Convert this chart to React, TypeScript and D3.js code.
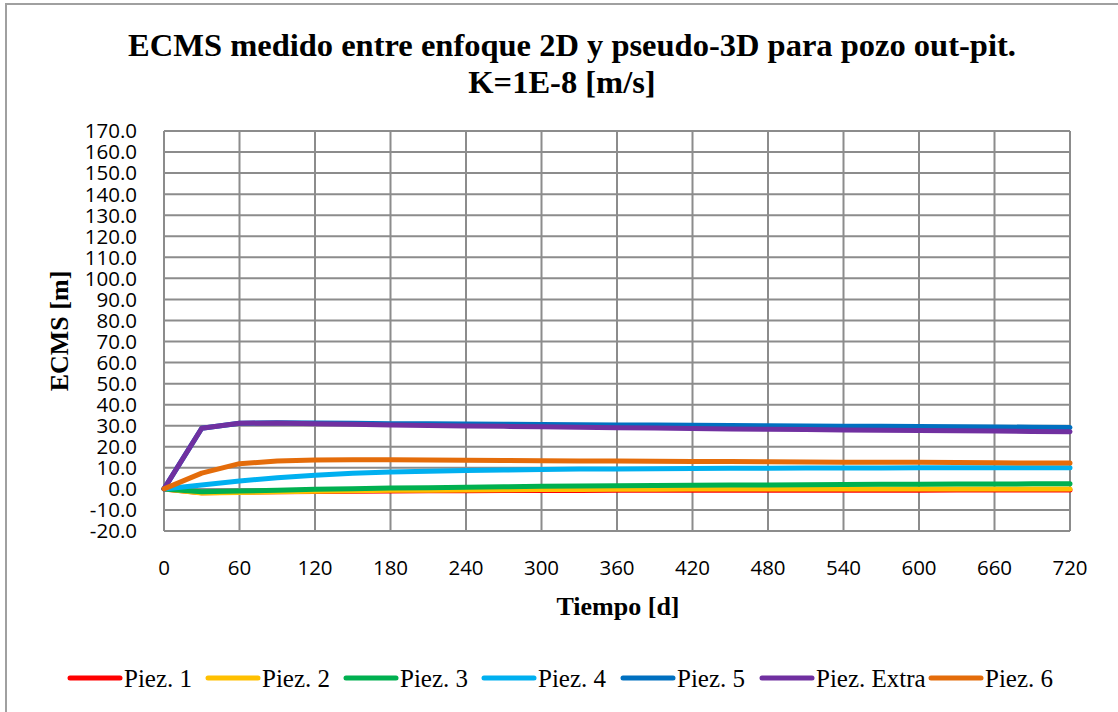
import React from "react";
import * as d3 from "d3";

const days = [0, 30, 60, 90, 120, 150, 180, 210, 240, 270, 300, 330, 360, 390, 420, 450, 480, 510, 540, 570, 600, 630, 660, 690, 720];

const piez1 = [0, -1.8, -1.6, -1.4, -1.2, -1.1, -1.0, -0.9, -0.9, -0.8, -0.8, -0.8, -0.7, -0.7, -0.7, -0.7, -0.6, -0.6, -0.6, -0.6, -0.6, -0.5, -0.5, -0.5, -0.5];
const piez2 = [0, -2.0, -1.7, -1.4, -1.1, -0.9, -0.7, -0.6, -0.5, -0.4, -0.3, -0.3, -0.2, -0.2, -0.1, -0.1, 0, 0, 0, 0, 0, 0, 0, 0, 0];
const piez3 = [0, -1.3, -1.0, -0.6, -0.2, 0.1, 0.4, 0.6, 0.8, 1.0, 1.2, 1.4, 1.5, 1.6, 1.7, 1.8, 1.9, 2.0, 2.1, 2.2, 2.2, 2.3, 2.3, 2.4, 2.4];
const piez4 = [0, 1.8, 3.8, 5.3, 6.5, 7.4, 8.0, 8.4, 8.7, 9.0, 9.2, 9.4, 9.5, 9.6, 9.7, 9.8, 9.8, 9.9, 9.9, 9.9, 10.0, 10.0, 10.0, 10.0, 10.0];
const piez5 = [0, 28.8, 31.2, 31.4, 31.3, 31.2, 31.0, 30.9, 30.8, 30.7, 30.6, 30.5, 30.4, 30.3, 30.2, 30.1, 30.0, 29.9, 29.8, 29.7, 29.6, 29.5, 29.4, 29.3, 29.2];
const piezExtra = [0, 28.8, 31.2, 31.3, 31.0, 30.7, 30.4, 30.1, 29.9, 29.7, 29.5, 29.3, 29.1, 28.9, 28.7, 28.5, 28.3, 28.2, 28.0, 27.9, 27.7, 27.6, 27.5, 27.3, 27.2];
const piez6 = [0, 7.5, 12.0, 13.2, 13.7, 13.8, 13.8, 13.7, 13.6, 13.5, 13.4, 13.3, 13.2, 13.1, 13.0, 13.0, 12.9, 12.8, 12.7, 12.6, 12.6, 12.5, 12.4, 12.3, 12.3];

const seriesNames = ["Piez. 1", "Piez. 2", "Piez. 3", "Piez. 4", "Piez. 5", "Piez. Extra", "Piez. 6"];
const seriesValues = [piez1, piez2, piez3, piez4, piez5, piezExtra, piez6];
const seriesColors = ["#FF0000", "#FFC000", "#00B050", "#00B0F0", "#0070C0", "#7030A0", "#E46C0A"];

const xTicks = [0, 60, 120, 180, 240, 300, 360, 420, 480, 540, 600, 660, 720];
const yTicks = d3.range(-20, 171, 10);

const titleLine1 = "ECMS medido entre enfoque 2D y pseudo-3D para pozo out-pit.";
const titleLine2 = "K=1E-8 [m/s]";
const xTitle = "Tiempo [d]";
const yTitle = "ECMS [m]";

const legendX = [68, 206, 344, 482, 621, 760, 929];

export default function App() {
  const x = d3.scaleLinear().domain([0, 720]).range([164, 1070]);
  const y = d3.scaleLinear().domain([-20, 170]).range([531, 131]);
  const line = d3
    .line<number>()
    .x((_, i) => x(days[i]))
    .y((v) => y(v));

  const grid = "#8C8C8C";
  const serif = "'Liberation Serif', 'Times New Roman', serif";
  const sans = "'Open Sans', sans-serif";

  return (
    <svg
      width={1118}
      height={712}
      style={{ position: "absolute", left: 0, top: 0, background: "#fff" }}
    >
      <rect x={0} y={0} width={1118} height={712} fill="#fff" />
      <rect x={6} y={4} width={1200} height={800} fill="none" stroke="#A0A0A0" strokeWidth={2} />

      <text x={572} y={56} textAnchor="middle" fontFamily={serif} fontWeight="bold" fontSize={32.5} fill="#000">
        {titleLine1}
      </text>
      <text x={562} y={93} textAnchor="middle" fontFamily={serif} fontWeight="bold" fontSize={32.5} fill="#000">
        {titleLine2}
      </text>

      {yTicks.map((t) => (
        <line key={"h" + t} x1={x(0)} x2={x(720)} y1={y(t)} y2={y(t)} stroke={grid} strokeWidth={2} />
      ))}
      {xTicks.map((t) => (
        <line key={"v" + t} x1={x(t)} x2={x(t)} y1={y(170)} y2={y(-20)} stroke={grid} strokeWidth={2} />
      ))}

      {yTicks.map((t) => (
        <text key={"yl" + t} x={137} y={y(t)} dy="0.36em" textAnchor="end" fontFamily={sans} fontSize={20.5} fill="#000">
          {t.toFixed(1)}
        </text>
      ))}
      {xTicks.map((t) => (
        <text key={"xl" + t} x={x(t)} y={575} textAnchor="middle" fontFamily={sans} fontSize={20.5} fill="#000">
          {t}
        </text>
      ))}

      <text x={618} y={615} textAnchor="middle" fontFamily={serif} fontWeight="bold" fontSize={26} fill="#000">
        {xTitle}
      </text>
      <text
        transform={`translate(68, 331) rotate(-90)`}
        textAnchor="middle"
        fontFamily={serif}
        fontWeight="bold"
        fontSize={26}
        fill="#000"
      >
        {yTitle}
      </text>

      {seriesValues.map((vals, i) => (
        <path
          key={"s" + i}
          d={line(vals) || ""}
          fill="none"
          stroke={seriesColors[i]}
          strokeWidth={5}
          strokeLinejoin="round"
          strokeLinecap="round"
        />
      ))}

      {seriesNames.map((name, i) => (
        <g key={"lg" + i} transform={`translate(${legendX[i]}, 678)`}>
          <line x1={2} x2={52} y1={0} y2={0} stroke={seriesColors[i]} strokeWidth={5} strokeLinecap="round" />
          <text x={56} y={9} fontFamily={serif} fontSize={25} fill="#000">
            {name}
          </text>
        </g>
      ))}
    </svg>
  );
}
